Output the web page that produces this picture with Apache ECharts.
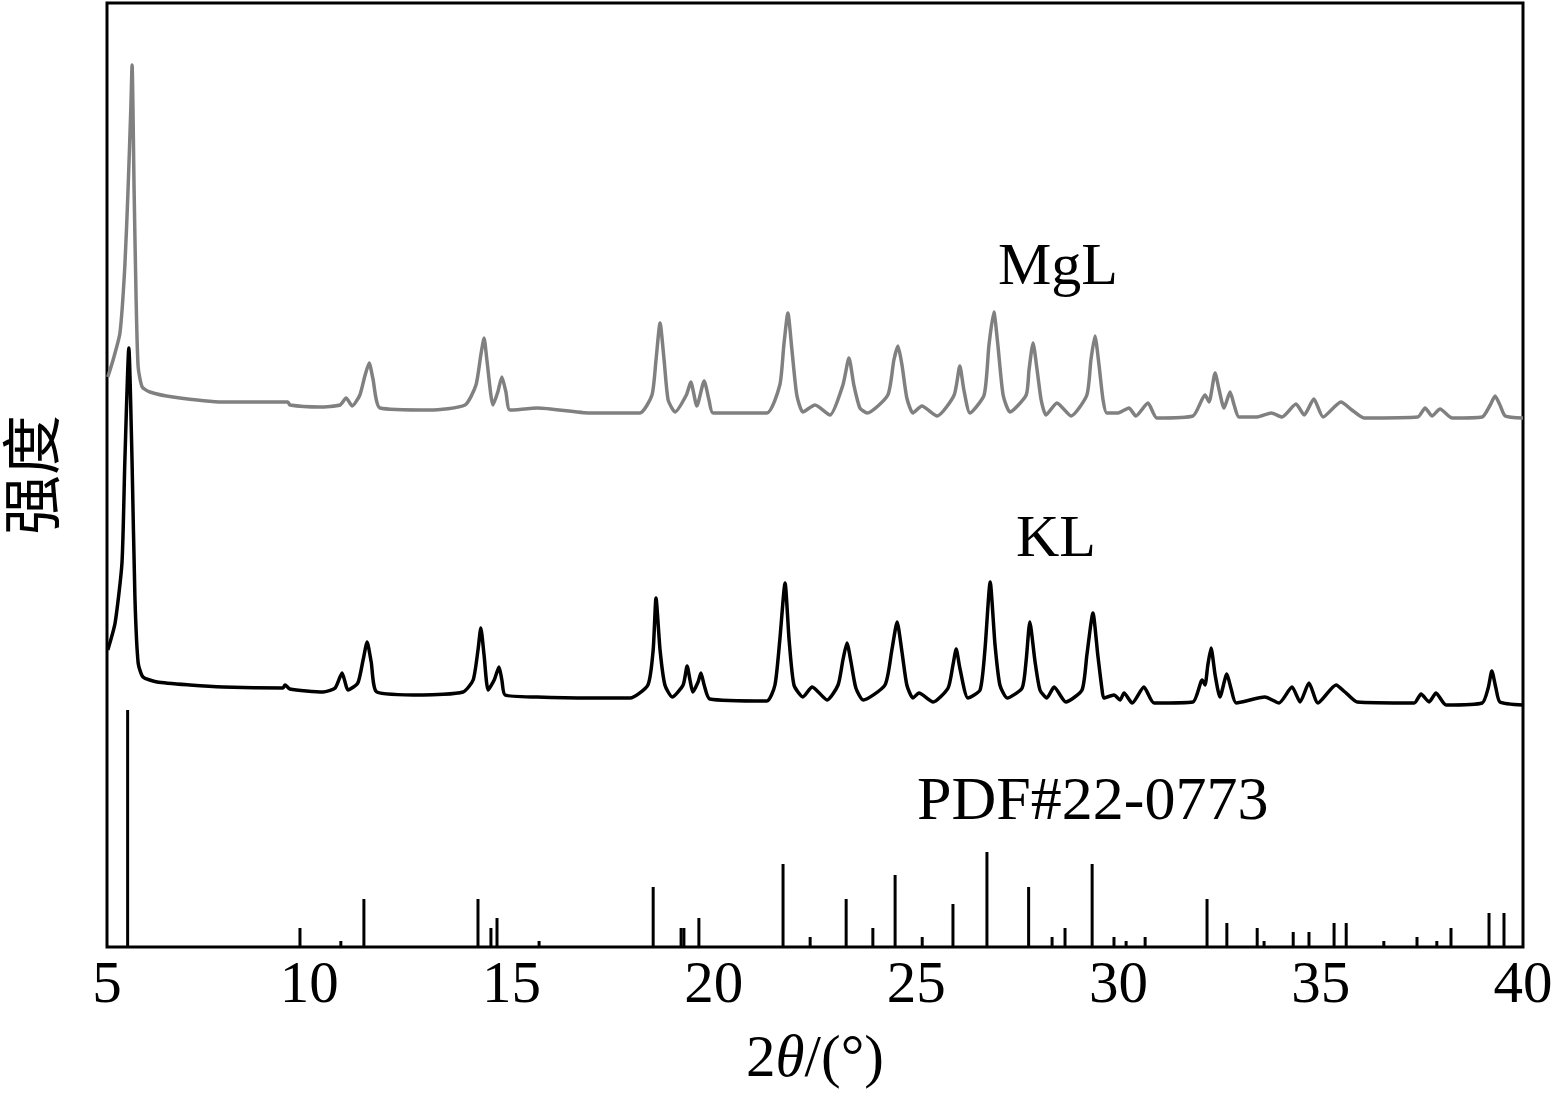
<!DOCTYPE html>
<html>
<head>
<meta charset="utf-8">
<script src="https://cdn.jsdelivr.net/npm/echarts@6/dist/echarts.min.js"></script>
<style>
html,body{margin:0;padding:0;background:#fff;}
#chart{width:1557px;height:1104px;}
</style>
</head>
<body>
<div id="chart"></div>
<script>
// x: 2θ (°), y: intensity (a.u., curves stacked with vertical offset)
const xTicks = [5, 10, 15, 20, 25, 30, 35, 40];

const mglData = [
[5.02,570],[5.15,587],[5.32,614],[5.44,680],[5.52,757],[5.59,840],[5.62,882],[5.67,757],[5.72,647],[5.77,580],[5.87,560],[6.06,555],[6.63,550],
[7.87,545],[9.47,545],[9.52,542],[10.26,540],[10.76,542],[10.91,549],[11.06,541],[11.25,552],[11.38,572],[11.48,584],[11.57,569],[11.75,539],
[12.98,537],[13.85,542],[14.12,562],[14.24,592],[14.32,609],[14.39,587],[14.54,542],[14.66,555],[14.76,570],[14.86,555],[14.96,537],
[15.65,539],[16.94,534],[18.17,534],[18.47,552],[18.57,587],[18.67,624],[18.77,587],[18.87,547],[19.04,535],[19.32,552],[19.43,565],[19.58,541],
[19.76,566],[19.88,547],[19.98,534],[21.31,534],[21.63,562],[21.73,602],[21.83,634],[21.93,597],[22.05,552],[22.20,535],[22.50,542],[22.87,532],
[23.19,562],[23.34,589],[23.46,562],[23.61,539],[23.79,534],[24.30,552],[24.45,587],[24.55,601],[24.65,582],[24.77,549],[24.92,534],[25.14,541],
[25.52,531],[25.94,552],[26.08,581],[26.18,557],[26.33,534],[26.68,552],[26.80,602],[26.92,635],[27.02,602],[27.15,552],[27.32,535],[27.72,552],
[27.79,577],[27.89,604],[27.99,577],[28.09,547],[28.21,532],[28.48,544],[28.83,531],[29.22,552],[29.32,587],[29.42,611],[29.52,582],[29.62,547],
[29.71,534],[29.99,534],[30.26,539],[30.43,531],[30.73,544],[30.95,529],[31.84,531],[32.14,552],[32.24,545],[32.39,574],[32.49,557],[32.61,539],
[32.76,555],[32.86,542],[32.98,530],[33.43,530],[33.78,534],[34.04,530],[34.39,543],[34.59,532],[34.83,548],[35.06,530],[35.50,545],[35.77,537],
[36.07,529],[37.40,530],[37.58,539],[37.75,531],[37.95,538],[38.25,529],[38.99,530],[39.19,542],[39.31,551],[39.43,542],[39.56,531],[40.0,529]
];

const klData = [
[5.02,297],[5.20,324],[5.37,384],[5.44,484],[5.54,599],[5.62,484],[5.69,350],[5.77,284],[5.89,270],[6.24,265],[7.05,262],[7.87,260],[9.35,259],
[9.40,262],[9.52,258],[10.34,255],[10.64,259],[10.81,274],[10.96,257],[11.20,264],[11.33,287],[11.43,305],[11.53,285],[11.67,255],[12.81,252],
[13.80,255],[14.05,267],[14.17,297],[14.24,319],[14.32,292],[14.42,257],[14.57,267],[14.69,280],[14.76,267],[14.84,252],[15.63,250],[16.94,249],
[17.93,249],[18.37,262],[18.50,297],[18.57,349],[18.67,297],[18.79,262],[18.97,250],[19.24,262],[19.34,281],[19.41,267],[19.48,255],[19.61,265],
[19.68,274],[19.76,262],[19.90,248],[21.31,246],[21.51,262],[21.63,307],[21.76,364],[21.86,307],[21.98,262],[22.20,250],[22.43,260],[22.80,247],
[23.07,262],[23.19,287],[23.29,304],[23.39,285],[23.51,259],[23.69,247],[24.23,262],[24.40,297],[24.53,325],[24.65,295],[24.77,262],[24.92,249],
[25.07,254],[25.42,245],[25.79,259],[25.91,282],[25.99,298],[26.08,279],[26.28,249],[26.58,257],[26.70,297],[26.83,365],[26.95,302],[27.07,262],
[27.25,249],[27.62,259],[27.72,287],[27.81,325],[27.94,285],[28.06,257],[28.23,249],[28.41,260],[28.70,245],[29.10,257],[29.22,292],[29.37,334],
[29.49,292],[29.59,259],[29.64,249],[29.89,252],[30.04,247],[30.14,254],[30.34,244],[30.63,260],[30.88,244],[31.84,245],[32.07,267],[32.14,262],
[32.21,282],[32.29,299],[32.39,272],[32.51,250],[32.68,273],[32.78,259],[32.91,244],[33.62,250],[33.97,244],[34.29,260],[34.49,245],[34.71,264],
[34.93,244],[35.38,262],[35.60,255],[35.90,245],[37.31,244],[37.48,253],[37.68,245],[37.85,254],[38.10,242],[38.99,244],[39.14,259],[39.23,276],
[39.33,259],[39.43,245],[40.0,242]
];

const pdfData = [
[5.51,237],[9.77,19],[10.78,6],[11.35,48],[14.17,48],[14.49,19],[14.64,29],[15.68,6],[18.50,60],[19.19,19],[19.26,19],[19.63,29],
[21.71,83],[22.38,10],[23.27,48],[23.93,19],[24.48,72],[25.15,10],[25.91,43],[26.75,95],[27.78,60],[28.36,10],[28.68,19],[29.35,83],
[29.89,10],[30.19,6],[30.66,10],[32.19,48],[32.68,24],[33.43,19],[33.60,6],[34.32,15],[34.71,15],[35.33,24],[35.63,24],[36.56,6],
[37.38,10],[37.87,6],[38.22,19],[39.16,34],[39.53,34]
];

const seriesNames = ['MgL', 'KL', 'PDF#22-0773'];

const serif = '"Liberation Serif","Times New Roman",serif';
const chart = echarts.init(document.getElementById('chart'));
chart.setOption({
  backgroundColor: '#fff',
  animation: false,
  grid: {left: 107, right: 34, top: 3, bottom: 157, containLabel: false, outerBoundsMode: 'none',
    show: true, borderColor: '#000', borderWidth: 3, backgroundColor: 'transparent'},
  xAxis: {
    type: 'value', min: 5, max: 40, interval: 5,
    axisLine: {show: false}, axisTick: {show: false}, splitLine: {show: false},
    axisLabel: {fontSize: 59, color: '#000', fontFamily: serif, margin: 10,
      formatter: v => xTicks.includes(v) ? String(v) : ''},
    name: '2{i|θ}/(°)', nameLocation: 'middle', nameGap: 84,
    nameTextStyle: {fontSize: 59, color: '#000', fontFamily: serif,
      rich: {i: {fontSize: 59, fontStyle: 'italic', fontFamily: serif, color: '#000'}}}
  },
  yAxis: {
    type: 'value', min: 0, max: 944,
    axisLine: {show: false}, axisTick: {show: false}, splitLine: {show: false}, axisLabel: {show: false},
    name: '强度', nameLocation: 'middle', nameGap: 46,
    nameTextStyle: {fontSize: 60, color: '#000', fontFamily: '"Noto Sans CJK SC",sans-serif'}
  },
  graphic: [
    {type: 'text', left: 998, top: 238, style: {text: seriesNames[0], font: '60px ' + serif, fill: '#000'}},
    {type: 'text', left: 1016, top: 510, style: {text: seriesNames[1], font: '60px ' + serif, fill: '#000'}},
    {type: 'text', left: 917, top: 772, style: {text: seriesNames[2], font: '62px ' + serif, fill: '#000'}}
  ],
  series: [
    {name: seriesNames[0], type: 'line', data: mglData, showSymbol: false, smooth: 0.2,
      lineStyle: {color: '#808080', width: 3.5}, z: 3},
    {name: seriesNames[1], type: 'line', data: klData, showSymbol: false, smooth: 0.2,
      lineStyle: {color: '#000', width: 3.5}, z: 4},
    {name: seriesNames[2], type: 'bar', data: pdfData, barWidth: 3, itemStyle: {color: '#000'}, z: 2}
  ]
});
</script>
</body>
</html>
